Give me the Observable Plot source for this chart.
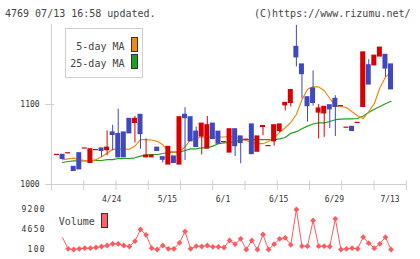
<!DOCTYPE html>
<html><head><meta charset="utf-8">
<script src="https://cdn.jsdelivr.net/npm/d3@7"></script>
<script src="https://cdn.jsdelivr.net/npm/@observablehq/plot@0.6"></script>
<style>
html,body{margin:0;padding:0;background:#fff;}
#wrap{position:relative;width:420px;height:259px;overflow:hidden;font-family:"DejaVu Sans Mono",monospace;}
#wrap svg{position:absolute;left:0;top:0;}
.t{position:absolute;font-size:10px;line-height:10px;color:#444;white-space:pre;}
.box{position:absolute;box-sizing:border-box;border:1px solid #cfcfcf;background:#fff;}
.sw{position:absolute;box-sizing:border-box;border:1px solid #333;}
</style></head>
<body>
<div id="wrap"></div>
<script>
// ---- data (day 1 .. 61) ----
const opens  = [1037,1037,1039,1022,1039,1045,1027,1043,1045,1043,1065,1063,1065,1082,1077,1087,1034,1034,1046,1034,1025,1035,1025,1087,1084,1066,1060,1045,1076,1066,1053,1040,1069,1060,1056,1075,1041,1072,1048,1054,1067,1099,1102,1172,1150,1109,1120,1090,1089,1099,1107,1098,1071,1072,1077,1097,1149,1149,1160,1162,1150];
const closes = [1037,1032,1039,1017,1019,1045,1044,1043,1042,1046,1062,1034,1034,1064,1082,1063,1036,1036,1042,1031,1047,1027,1084,1083,1054,1047,1076,1074,1057,1051,1053,1069,1048,1052,1056,1038,1060,1073,1048,1074,1075,1102,1118,1159,1138,1098,1102,1095,1097,1094,1097,1098,1071,1067,1077,1165,1125,1161,1171,1145,1119];
const highs  = [null,null,null,null,null,null,null,null,null,1067,1074,1094,null,null,1085,null,1057,null,null,null,null,null,null,1096,null,1072,null,1085,null,null,null,null,null,null,null,null,null,null,null,null,null,null,1119,1199,null,null,1142,1100,null,null,1111,null,null,null,null,1166,1156,null,null,null,null];
const lows   = [null,null,null,null,null,null,null,null,1034,1036,1042,null,null,null,1052,1044,null,null,null,1027,null,null,null,1030,null,null,1037,null,null,null,null,null,1035,1026,null,null,null,1061,null,1048,1065,1092,1097,1147,1107,1078,1098,1057,1059,1070,1060,null,null,1066,null,null,null,null,null,1134,null];
const ma5    = [null,1031,1032,1033,1031,1030,1029,1031,1034.6,1039,1044,1044.6,1044.6,1044,1048,1056,1056,1055.6,1054,1049.6,1041.6,1040.4,1041,1047,1056,1057.5,1059.4,1059.4,1059.4,1059.4,1059.4,1060,1058.75,1057,1055,1052.5,1051,1051,1053.75,1058.75,1065,1071,1077.5,1087.5,1106,1119,1122,1122,1117.5,1107.5,1098,1097.5,1096,1091,1086,1082.5,1091,1101,1121,1134,1141];
const ma25   = [null,1027.5,1028.75,1029.6,1029.6,1029.4,1029.4,1030,1030,1031,1031,1032.5,1032.5,1032.5,1033.4,1035.4,1037,1037.5,1037.5,1038.75,1040,1040.4,1040.4,1042.5,1044.6,1044.6,1045.9,1045.9,1048,1050.9,1052,1052.5,1053.75,1055.6,1056,1056,1056,1056,1056,1056,1057,1058.75,1064,1066,1069.6,1073,1075.6,1077,1077,1078.75,1081,1081.6,1082,1082,1082.5,1085.6,1090,1094,1097.5,1101,1104];
const volumes= [null,2760,260,100,260,400,400,555,780,1010,1390,1390,1010,780,1990,4650,3440,400,100,1010,260,260,1620,4195,260,850,780,1010,700,700,555,2150,1310,2530,100,2150,100,3510,100,1310,2530,2760,1160,9200,850,850,6700,850,850,780,7080,100,260,400,260,2900,1540,400,1390,2900,100];
const dateLabels = ["4/24","5/15","6/1","6/15","6/29","7/13"];
const dateLabelDays = [11,21,31,41,51,61];
const priceTicks = [1000,1100];
const volumeTicks = [100,4650,9200];

// ---- styles ----
const RED = "#d80000", BLUE = "#4048c0", ORANGE = "#f08a10", GREEN = "#1ea21e", VOL = "#ff5a60", GRID = "#cfcfcf", TXT = "#333";
const X_END = 63.75;
const xScale = {domain: [0, X_END], range: [50.93, 50.93 + 5.567 * X_END], axis: null};
const px = p => (p - 50.93) / 5.567;

const rows = opens.map((o, k) => {
  const c = closes[k];
  return {day: k + 1, open: o, close: c,
    high: highs[k] ?? Math.max(o, c), low: lows[k] ?? Math.min(o, c),
    up: c >= o, ma5: ma5[k], ma25: ma25[k], vol: volumes[k]};
});
const gridTicks = d3.range(1, 12).map(k => k * X_END / 11);

const main = Plot.plot({
  width: 420, height: 259,
  marginLeft: 51, marginRight: 14, marginTop: 24, marginBottom: 69,
  x: xScale,
  y: {domain: [1000, 1200], range: [184, 24], axis: null},
  style: {background: "transparent", fontFamily: "DejaVu Sans Mono", fontSize: "8px", color: TXT, overflow: "visible"},
  marks: [
    Plot.ruleY([1000], {x1: px(45), x2: px(406), stroke: GRID}),
    Plot.ruleY(priceTicks, {x1: px(45), x2: px(54), stroke: GRID}),
    Plot.ruleX([0], {y1: 1000 - 6 / 0.8, y2: 1200, stroke: GRID}),
    Plot.ruleX(gridTicks, {y1: 1000 - 6 / 0.8, y2: 1000 + 3.5 / 0.8, stroke: GRID}),
    Plot.text(priceTicks, {x: 0, y: d => d, dx: -11.8, textAnchor: "end", text: d => String(d), fill: TXT, fontSize: 8}),
    Plot.text(dateLabelDays, {x: d => d, y: 1000, dy: 14.5, dx: -1, text: (d, i) => dateLabels[i], fill: TXT, fontSize: 8}),
    Plot.line(rows.filter(d => d.ma25 != null), {x: "day", y: "ma25", stroke: GREEN, strokeWidth: 1.2}),
    Plot.line(rows.filter(d => d.ma5 != null), {x: "day", y: "ma5", stroke: ORANGE, strokeWidth: 1.2}),
    Plot.ruleX(rows, {x: "day", y1: "low", y2: "high", stroke: d => d.up ? RED : BLUE, strokeWidth: 1}),
    Plot.rect(rows, {x1: d => d.day - 0.449, x2: d => d.day + 0.449, y1: "open", y2: "close",
      fill: d => d.up ? RED : BLUE, insetTop: -0.6, insetBottom: -0.6})
  ]
});

const vol = Plot.plot({
  width: 420, height: 259,
  marginLeft: 51, marginRight: 14, marginTop: 209, marginBottom: 10,
  x: xScale,
  y: {domain: [100, 9200], range: [249, 209], axis: null},
  style: {background: "transparent", fontFamily: "DejaVu Sans Mono", fontSize: "8px", color: TXT, overflow: "visible", letterSpacing: "1.3px"},
  marks: [
    Plot.text(volumeTicks, {x: 0, y: d => d, dx: -5.5, textAnchor: "end", text: d => String(d), fill: TXT, fontSize: 8}),
    Plot.line(rows.filter(d => d.vol != null), {x: "day", y: "vol", stroke: VOL, strokeWidth: 1}),
    Plot.dot(rows.filter(d => d.vol != null && d.day >= 3), {x: "day", y: "vol", symbol: d3.symbolDiamond2 || "diamond", r: 2.6, fill: VOL, stroke: "none"})
  ]
});

const wrap = document.getElementById("wrap");
wrap.appendChild(main);
wrap.appendChild(vol);

function addDiv(cls, css, text) {
  const d = document.createElement("div");
  d.className = cls;
  Object.assign(d.style, css);
  if (text != null) d.textContent = text;
  wrap.appendChild(d);
  return d;
}
addDiv("t", {left: "5px", top: "8.5px"}, "4769 07/13 16:58 updated.");
addDiv("t", {left: "254px", top: "8.5px"}, "(C)https://www.rizumu.net/");
addDiv("box", {left: "65px", top: "28px", width: "78px", height: "50px"});
addDiv("t", {right: (420 - 124.5) + "px", top: "42.2px"}, "5-day MA");
addDiv("t", {right: (420 - 124.5) + "px", top: "58.8px"}, "25-day MA");
addDiv("sw", {left: "131px", top: "37px", width: "7px", height: "15px", background: ORANGE});
addDiv("sw", {left: "131px", top: "54px", width: "7px", height: "15px", background: GREEN});
addDiv("t", {left: "58.7px", top: "217.2px"}, "Volume");
addDiv("sw", {left: "101px", top: "213px", width: "7px", height: "15px", background: "#ff6060"});
</script>
</body></html>
